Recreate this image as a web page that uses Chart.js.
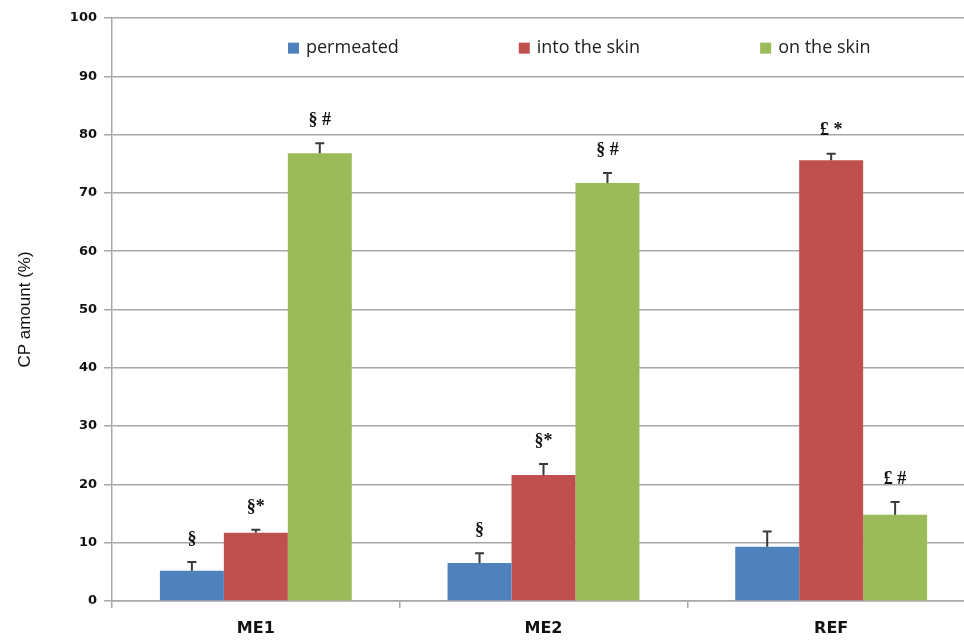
<!DOCTYPE html>
<html lang="en">
<head>
    <meta charset="UTF-8">
    <title>CP amount</title>
    <script src="https://cdn.jsdelivr.net/npm/chart.js"></script>
    <style>
        body { margin: 0; overflow: hidden; background: #fff; }
        #wrap { width: 980px; height: 641px; }
    </style>
</head>
<body>
    <div id="wrap"><canvas id="cpChart"></canvas></div>
    <script>
        const categories = ['ME1', 'ME2', 'REF'];

        const permeated = [5.2, 6.5, 9.3];
        const permeatedSd = [1.5, 1.7, 2.6];
        const permeatedMarks = ['§', '§', ''];

        const intoSkin = [11.7, 21.6, 75.6];
        const intoSkinSd = [0.5, 1.9, 1.1];
        const intoSkinMarks = ['§*', '§*', '£ *'];

        const onSkin = [76.8, 71.7, 14.8];
        const onSkinSd = [1.7, 1.7, 2.2];
        const onSkinMarks = ['§ #', '§ #', '£ #'];

        const gridColor = '#a8a8a8';

        // error bars (upper half only) plus significance marks above them
        const errorBars = {
            id: 'errorBars',
            afterDatasetsDraw(chart) {
                const ctx = chart.ctx;
                const y = chart.scales.y;
                chart.data.datasets.forEach((ds, i) => {
                    const meta = chart.getDatasetMeta(i);
                    meta.data.forEach((bar, j) => {
                        const top = y.getPixelForValue(ds.data[j] + ds.sd[j]);
                        ctx.save();
                        ctx.strokeStyle = '#3a3a3a';
                        ctx.lineWidth = 2;
                        ctx.beginPath();
                        ctx.moveTo(bar.x, bar.y);
                        ctx.lineTo(bar.x, top);
                        ctx.moveTo(bar.x - 4.5, top);
                        ctx.lineTo(bar.x + 4.5, top);
                        ctx.stroke();
                        if (ds.marks[j]) {
                            ctx.fillStyle = '#111';
                            ctx.font = 'bold 18px "Liberation Serif", serif';
                            ctx.textAlign = 'center';
                            ctx.textBaseline = 'middle';
                            ctx.fillText(ds.marks[j], bar.x, top - 23);
                        }
                        ctx.restore();
                    });
                });
            }
        };

        // legend row drawn inside the plot, between the 100 and 90 gridlines
        const innerLegend = {
            id: 'innerLegend',
            afterDraw(chart) {
                const ctx = chart.ctx;
                const y = chart.scales.y;
                const cy = (y.getPixelForValue(100) + y.getPixelForValue(90)) / 2 + 1;
                let x = 288;
                ctx.save();
                ctx.font = '18px "Open Sans", "Liberation Sans", sans-serif';
                ctx.textBaseline = 'middle';
                ctx.textAlign = 'left';
                chart.data.datasets.forEach(ds => {
                    ctx.fillStyle = ds.backgroundColor;
                    ctx.fillRect(x, cy - 5.5, 11, 11);
                    ctx.fillStyle = '#222';
                    ctx.fillText(ds.label, x + 18, cy);
                    x += 18 + ctx.measureText(ds.label).width + 120;
                });
                ctx.restore();
            }
        };

        new Chart(document.getElementById('cpChart'), {
            type: 'bar',
            data: {
                labels: categories,
                datasets: [
                    { label: 'permeated', data: permeated, sd: permeatedSd, marks: permeatedMarks, backgroundColor: '#4f81bd' },
                    { label: 'into the skin', data: intoSkin, sd: intoSkinSd, marks: intoSkinMarks, backgroundColor: '#c0504d' },
                    { label: 'on the skin', data: onSkin, sd: onSkinSd, marks: onSkinMarks, backgroundColor: '#9bbb59' }
                ]
            },
            options: {
                responsive: true,
                maintainAspectRatio: false,
                animation: false,
                layout: { padding: { top: 18, right: 5, left: 0, bottom: 0 } },
                datasets: { bar: { categoryPercentage: 0.667, barPercentage: 1.0 } },
                plugins: {
                    legend: { display: false },
                    tooltip: { enabled: false }
                },
                scales: {
                    x: {
                        afterFit: s => { s.height = 40; },
                        grid: { drawOnChartArea: false, drawTicks: true, tickLength: 7, color: gridColor, lineWidth: 1.5 },
                        border: { color: gridColor, width: 1.5 },
                        ticks: { color: '#111', padding: 11, font: { family: 'DejaVu Sans', size: 16, weight: 'bold' } }
                    },
                    y: {
                        min: 0,
                        max: 100,
                        afterFit: s => { s.width = 112; },
                        grid: { color: gridColor, lineWidth: 1.5, tickLength: 8 },
                        border: { color: gridColor, width: 1.5 },
                        ticks: { stepSize: 10, color: '#111', padding: 7, font: { family: 'DejaVu Sans', size: 13, weight: 'bold' } },
                        title: {
                            display: true,
                            text: 'CP amount (%)',
                            color: '#111',
                            padding: { top: 15, bottom: 0 },
                            font: { family: 'Liberation Sans', size: 17 }
                        }
                    }
                }
            },
            plugins: [errorBars, innerLegend]
        });
    </script>
</body>
</html>
